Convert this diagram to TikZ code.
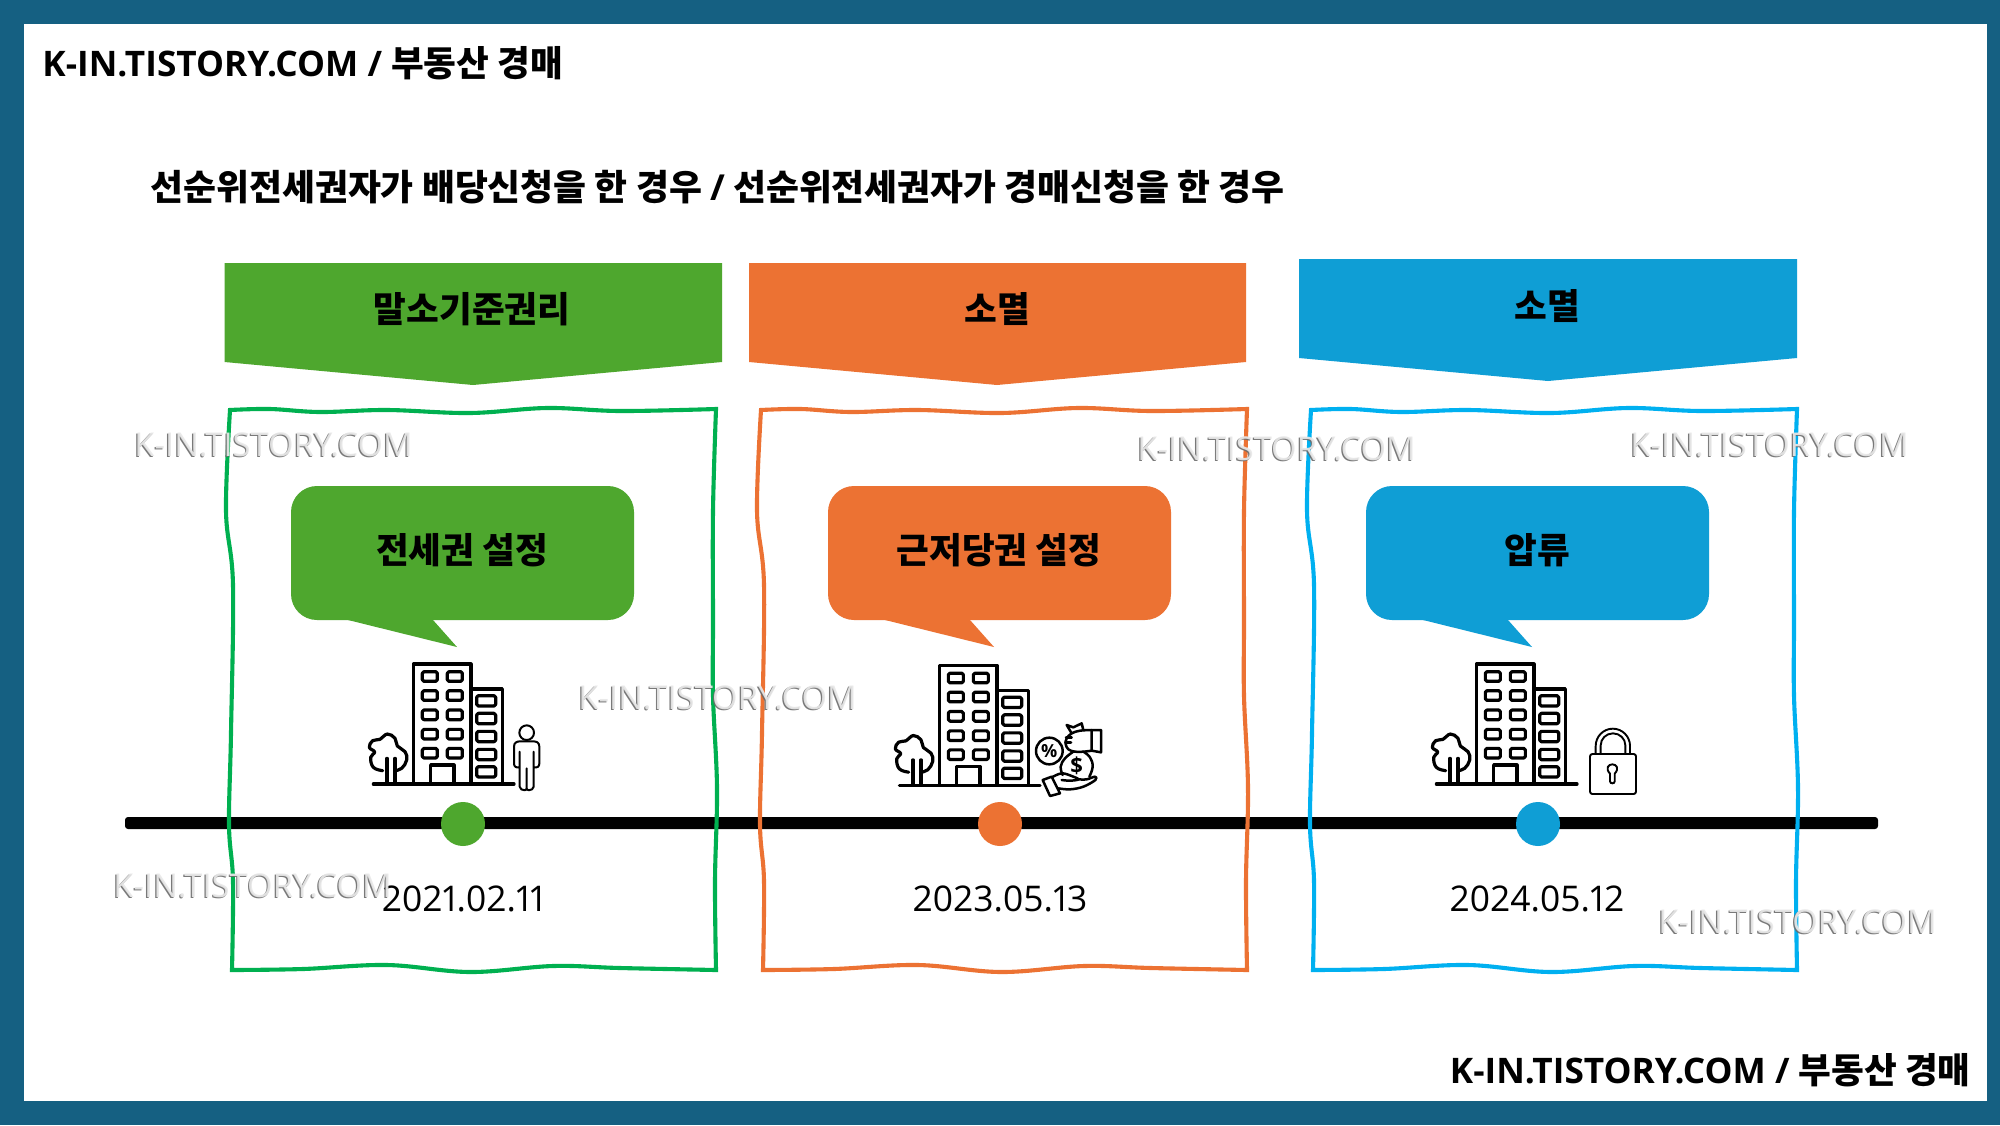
\documentclass[tikz,border=0pt]{standalone}
\usepackage{fontspec}
\setmainfont{Open Sans}
\newfontfamily\kr{Noto Sans CJK KR}
\newfontfamily\nt{Open Sans}
\newfontfamily\dt{Open Sans}[Numbers=Proportional]
\definecolor{edgeC}{HTML}{156082}
\definecolor{gFill}{HTML}{4EA72E}
\definecolor{oFill}{HTML}{EC7233}
\definecolor{bFill}{HTML}{0F9ED5}
\definecolor{gLine}{HTML}{00B050}
\definecolor{oLine}{HTML}{EC7233}
\definecolor{bLine}{HTML}{00B0F0}
\newcommand{\fs}[1]{\fontsize{#1}{#1}\selectfont}
\newcommand{\wob}[2]{%
\begin{scope}[shift={(#1,0)}]
\draw[#2,line width=2.05pt,miter limit=10]
 plot[smooth,tension=.6] coordinates{(230,410)(270,409)(320,412)(387,410)(470,413)(547,408)(620,411)(716,409)}
 -- plot[smooth,tension=.6] coordinates{(716,409)(713,511)(713,622)(713,696)(717,788)(715,881)(716,970)}
 -- plot[smooth,tension=.6] coordinates{(716,970)(620,968)(553,966)(470,972)(387,965)(303,969)(232,970)}
 -- plot[smooth,tension=.6] coordinates{(232,970)(233,881)(229,825)(231,733)(233,585)(226,511)(230,410)} -- cycle;
\end{scope}}
\newcommand{\building}[2]{%
\begin{scope}[shift={(#1,#2)},x=0.16667pt,y=-0.16667pt,line width=1.6pt,line join=round,line cap=round]
\draw (220,430)--(220,72)--(393,72)--(393,430);
\draw (393,147)--(487,147)--(487,430);
\foreach \yy in {95,152,210,268,325}{
 \draw[rounded corners=0.8pt] (247,\yy) rectangle (292,\yy+29);
 \draw[rounded corners=0.8pt] (322,\yy) rectangle (367,\yy+29);}
\foreach \yy in {167,220,274,328,380}{
 \draw[rounded corners=0.8pt] (410,\yy) rectangle (467,\yy+31);}
\draw (272,430)--(272,375)--(342,375)--(342,430);
\draw (100,432)--(522,432);
\draw (141,355)--(141,430) (165,355)--(165,430);
\draw plot[smooth,tension=.7] coordinates{(128,392)(100,382)(92,352)(104,336)(88,322)(98,302)(120,298)(142,282)(165,295)(172,318)(195,335)(200,360)(185,385)(165,392)};
\end{scope}}
\begin{document}
\begin{tikzpicture}[x=0.5pt,y=-0.5pt,
 banner/.style={fill=#1,draw=none},
 bubble/.style={fill=#1,draw=none,rounded corners=13pt},
 dot/.style={fill=#1,draw=none,circle,minimum size=22pt,inner sep=0pt},
 ktext/.style={font=\kr\bfseries\fs{17.8},anchor=base,inner sep=0pt,text=black},
 datetext/.style={font=\dt\fs{17.7},anchor=base,inner sep=0pt,text=black},
 head/.style={font=\fs{16.5},anchor=base west,inner sep=0pt,text=black},
 wmA/.style={font=\nt\fs{16.4},anchor=base west,inner sep=0pt,text=black!58,opacity=.9},
 wmB/.style={font=\nt\fs{16.4},anchor=base west,inner sep=0pt,text=black!9,opacity=.92}]
\useasboundingbox (0,0) rectangle (2000,1125);
\fill[edgeC] (0,0) rectangle (2000,1125);
\fill[white] (24,24) rectangle (1987,1101);
% titles
\node[head] (t1) at (42,76) {{\nt\bfseries\fs{17.6}K-IN.TISTORY.COM / }{\kr\fs{17.8}\bfseries 부동산 경매}};
\node[head,anchor=base east] (t3) at (1971,1083) {{\nt\bfseries\fs{17.6}K-IN.TISTORY.COM / }{\kr\fs{17.8}\bfseries 부동산 경매}};
\node[head] (t2) at (150,200) {\kr\fs{17.9}\bfseries 선순위전세권자가 배당신청을 한 경우 {\nt\bfseries/} 선순위전세권자가 경매신청을 한 경우};
% banners
\fill[banner=gFill] (224.5,263)--(722,263)--(722,362)--(473,385)--(224.5,362)--cycle;
\fill[banner=oFill] (749,263)--(1246,263)--(1246,362)--(997,385)--(749,362)--cycle;
\fill[banner=bFill] (1299,259)--(1797,259)--(1797,358)--(1548,381)--(1299,358)--cycle;
\node[ktext] (b1) at (472,322) {말소기준권리};
\node[ktext] (b2) at (997,322) {소멸};
\node[ktext] (b3) at (1547,319) {소멸};
% timeline
\fill[rounded corners=1.5pt] (125,817) rectangle (1878,829);
% frames
\wob{0}{gLine}
\wob{531}{oLine}
\wob{1081}{bLine}
% bubbles
\foreach \dx/\cc in {0/gFill,537/oFill,1075/bFill}{
 \begin{scope}[shift={(\dx,0)}]
 \fill[bubble=\cc] (291,486) rectangle (634,620);
 \fill[\cc] (348,619)--(348,620)--(457,647)--(433,620)--(433,619)--cycle;
 \end{scope}}
\node[ktext] (c1) at (462,563) {전세권 설정};
\node[ktext] (c2) at (999,563) {근저당권 설정};
\node[ktext] (c3) at (1537,563) {압류};
% icons
\building{340}{640}
\building{866}{641.5}
\building{1403}{640}
% person
\begin{scope}[shift={(340,640)},x=0.16667pt,y=-0.16667pt,line width=1pt,line join=round,line cap=round]
\draw (560,278) circle [radius=22];
\draw (560,445) .. controls (560,452) and (572,452) .. (576,448) -- (581,440) -- (581,335)
      (581,382) .. controls (592,384) and (598,380) .. (598,370) -- (598,320) .. controls (598,308) and (590,304) .. (580,304)
      -- (540,304) .. controls (530,304) and (522,308) .. (522,320) -- (522,370) .. controls (522,380) and (528,384) .. (539,382)
      (539,335) -- (539,440) -- (544,448) .. controls (548,452) and (560,452) .. (560,445) -- (560,385);
\end{scope}
% lock
\begin{scope}[shift={(1410,640)},x=0.16667pt,y=-0.16667pt,line width=.95pt,line join=round,line cap=round]
\draw[rounded corners=1.2pt] (540,342) rectangle (678,462);
\draw (557,342) -- (557,318) arc[start angle=180,end angle=360,x radius=51.5,y radius=52] -- (660,342);
\draw (572,342) -- (572,316) arc[start angle=180,end angle=360,x radius=37,y radius=36] -- (646,342);
\draw (600,401) .. controls (585,385) and (595,373) .. (607,373) .. controls (619,373) and (629,385) .. (614,401) -- (614,424) .. controls (614,432) and (600,432) .. (600,424) -- cycle;
\end{scope}
% money
\begin{scope}[shift={(1020,720)},x=0.16667pt,y=-0.16667pt,line width=1.25pt,line join=round,line cap=round]
\draw (88,93) circle [radius=40];
\node[inner sep=0pt,font=\nt\bfseries\fs{9}] (pct) at (88,94) {\%};
\draw plot[smooth,tension=.7] coordinates{(160,95)(135,115)(122,140)(128,165)};
\draw plot[smooth,tension=.7] coordinates{(190,95)(210,112)(218,140)(208,170)};
\node[inner sep=0pt,font=\nt\bfseries\fs{11}] (usd) at (170,137) {\$};
\draw (215,30)--(243,30)--(243,97)--(215,92)--cycle;
\draw plot[smooth,tension=.6] coordinates{(215,30)(180,32)(155,40)(140,55)(137,72)(145,88)(165,95)(190,95)(215,92)};
\draw (138,52)--(155,52) (136,68)--(153,68);
\draw (140,15)--(160,22)--(185,10)--(190,30) (155,40)--(140,15);
\draw (68,180)--(95,170)--(120,220)--(90,228)--cycle;
\draw plot[smooth,tension=.6] coordinates{(95,172)(125,160)(155,168)(175,178)(150,182)(125,180)};
\draw plot[smooth,tension=.6] coordinates{(175,178)(200,178)(225,170)(226,180)(190,200)(150,208)(115,205)};
\end{scope}
% dots
\node[dot=gFill] (d1) at (463,824) {};
\node[dot=oFill] (d2) at (1000,824) {};
\node[dot=bFill] (d3) at (1538,824) {};
% dates
\node[datetext] (e1) at (463,911.5) {2021.02.11};
\node[datetext] (e2) at (1000,911.5) {2023.05.13};
\node[datetext] (e3) at (1537,911.5) {2024.05.12};
% watermarks
\foreach \wx/\wy in {134/456,1137/460,1630/456,578/709,113/897,1658/933}{
 \node[wmA] at (\wx-1.2,\wy+1) {K-IN.TISTORY.COM};
 \node[wmB] at (\wx,\wy) {K-IN.TISTORY.COM};}
\end{tikzpicture}
\end{document}
